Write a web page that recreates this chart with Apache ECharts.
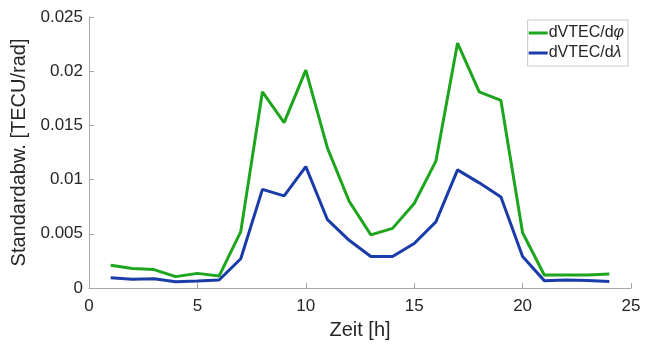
<!DOCTYPE html>
<html><head><meta charset="utf-8">
<script src="https://cdn.jsdelivr.net/npm/echarts@6/dist/echarts.min.js"></script>
<style>html,body{margin:0;padding:0;background:#fff}#c{width:652px;height:347px}</style>
</head><body><div id="c"></div>
<script>
const hours = [1,2,3,4,5,6,7,8,9,10,11,12,13,14,15,16,17,18,19,20,21,22,23,24];
const dPhi = [0.0021,0.0018,0.0017,0.00105,0.00135,0.0011,0.0052,0.0181,0.01525,0.0201,0.0129,0.0080,0.0049,0.0055,0.0078,0.0117,0.0226,0.0181,0.0173,0.0051,0.0012,0.0012,0.0012,0.0013];
const dLambda = [0.00095,0.0008,0.00085,0.00058,0.00065,0.00074,0.0027,0.0091,0.0085,0.0112,0.0063,0.0044,0.0029,0.0029,0.0041,0.0061,0.0109,0.0097,0.0084,0.0029,0.00068,0.00074,0.0007,0.0006];
const xTicks = [0,5,10,15,20,25];
const yTicks = [0,0.005,0.01,0.015,0.02,0.025];
const names = ['dVTEC/dφ','dVTEC/dλ'];

const font = 'Liberation Sans, Arial, sans-serif';
const chart = echarts.init(document.getElementById('c'), null, {renderer:'canvas'});
chart.setOption({
  animation:false,
  grid:{left:89,right:21,top:17,bottom:59,containLabel:false},
  legend:{
    right:24, top:20, orient:'vertical',
    data:names.map(n=>({name:n, icon:'rect'})),
    itemWidth:19, itemHeight:3, itemGap:4,
    borderColor:'#c8c8c8', borderWidth:1, padding:[5,4,5,1],
    backgroundColor:'#fff',
    formatter:function(n){ return n.replace(/([φλ])/, '{i|$1}'); },
    textStyle:{fontFamily:font,fontSize:16,color:'#262626',padding:[0,0,0,-4],
      rich:{i:{fontFamily:font,fontSize:16,fontStyle:'italic',color:'#262626'}}}
  },
  xAxis:{
    type:'value', min:0, max:25, interval:5,
    name:'Zeit [h]', nameLocation:'middle', nameGap:32,
    nameTextStyle:{fontFamily:font,fontSize:20,color:'#262626'},
    axisLine:{show:true,lineStyle:{color:'#a6a6a6',width:1}},
    axisTick:{show:true,inside:true,length:5,lineStyle:{color:'#a6a6a6'}},
    axisLabel:{fontFamily:font,fontSize:17,color:'#262626',margin:10,
      formatter:v=>xTicks.includes(v)?String(v):''},
    splitLine:{show:false}
  },
  yAxis:{
    type:'value', min:0, max:0.025, interval:0.005,
    name:'Standardabw. [TECU/rad]', nameLocation:'middle', nameGap:57,
    nameTextStyle:{fontFamily:font,fontSize:20,color:'#262626'},
    axisLine:{show:true,lineStyle:{color:'#a6a6a6',width:1}},
    axisTick:{show:true,inside:true,length:5,lineStyle:{color:'#a6a6a6'}},
    axisLabel:{fontFamily:font,fontSize:17,color:'#262626',margin:6,
      formatter:v=>{const t=yTicks.find(x=>Math.abs(x-v)<1e-9);return t===undefined?'':String(+t.toFixed(3));}},
    splitLine:{show:false}
  },
  series:[
    {name:names[0],type:'line',data:hours.map((h,i)=>[h,dPhi[i]]),showSymbol:false,
      lineStyle:{color:'#1ea51e',width:3},itemStyle:{color:'#1ea51e'}},
    {name:names[1],type:'line',data:hours.map((h,i)=>[h,dLambda[i]]),showSymbol:false,
      lineStyle:{color:'#1a3ca8',width:3},itemStyle:{color:'#1a3ca8'}}
  ]
});
</script></body></html>
